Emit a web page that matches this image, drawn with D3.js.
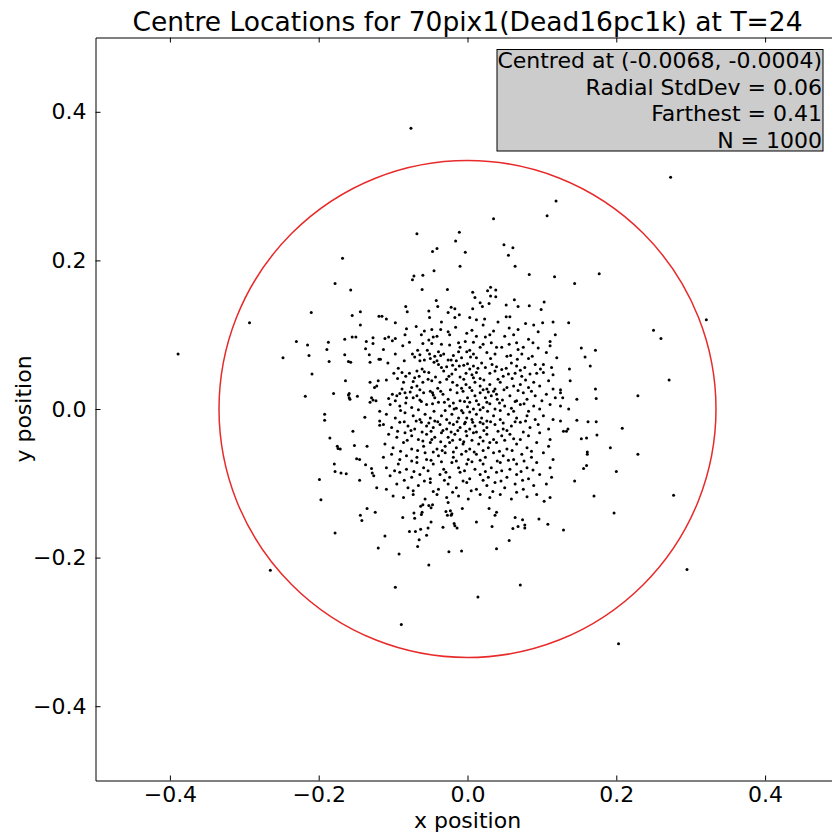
<!DOCTYPE html>
<html><head><meta charset="utf-8">
<script src="https://cdn.jsdelivr.net/npm/d3@7"></script>
<style>body{margin:0;background:#fff}svg{display:block}text{font-family:"DejaVu Sans",sans-serif;fill:#000}</style>
</head><body><svg id="c" width="832" height="832"></svg>
<script>
const titleText = "Centre Locations for 70pix1(Dead16pc1k) at T=24";
const xLabel = "x position";
const yLabel = "y position";
const xDomain = [-0.5, 0.5];
const yDomain = [-0.5, 0.5];
const xTicks = [-0.4, -0.2, 0.0, 0.2, 0.4];
const yTicks = [-0.4, -0.2, 0.0, 0.2, 0.4];
const statsLines = ["Centred at (-0.0068, -0.0004)", "Radial StdDev = 0.06", "Farthest = 0.41", "N = 1000"];
const circleRadius = 0.334;

// outer / sparse points [x, y]
const outerPts = [
[-0.389,0.074],[-0.076,0.378],
[-0.168,0.203],[-0.178,0.169],[-0.157,0.160],[-0.210,0.130],[-0.155,0.126],[-0.144,0.131],[-0.119,0.125],
[0.035,0.256],[0.119,0.280],[0.107,0.260],[-0.068,0.236],[-0.011,0.238],[-0.016,0.226],[-0.047,0.212],[-0.041,0.216],[-0.003,0.211],[0.049,0.221],[0.061,0.217],[0.055,0.207],[-0.010,0.192],[0.064,0.192],[-0.045,0.186],[-0.072,0.179],[-0.074,0.174],[-0.060,0.180],[0.083,0.181],[0.117,0.178],[-0.061,0.161],[-0.027,0.161],[0.031,0.164],[0.027,0.159],[0.038,0.160],[0.007,0.157],[0.010,0.150],[0.031,0.152],[0.038,0.151],[-0.042,0.146],[0.063,0.147],[0.103,0.144],[0.017,0.143],[0.029,0.142],[0.020,0.138],[0.052,0.140],[0.068,0.138],[0.083,0.139],[0.099,0.134],[-0.083,0.138],[-0.081,0.131],[-0.052,0.132],[-0.040,0.138],[-0.022,0.137],[-0.017,0.135],[-0.026,0.130],[-0.011,0.127],[-0.017,0.123],[0.007,0.135],[-0.051,0.123],[0.003,0.123],[0.012,0.120],[0.023,0.121],[0.052,0.124],[0.057,0.124],[-0.115,0.125],[-0.109,0.121],
[0.273,0.312],[0.177,0.182],[0.144,0.169],[0.321,0.120],
[-0.293,0.116],[-0.144,0.113],[-0.230,0.091],[-0.215,0.086],[-0.187,0.090],[-0.165,0.094],[-0.155,0.097],[-0.150,0.097],[-0.136,0.091],[-0.127,0.096],[-0.127,0.088],[-0.189,0.080],[-0.137,0.081],[-0.248,0.069],[-0.213,0.072],[-0.165,0.073],[-0.132,0.073],[-0.186,0.064],[-0.160,0.064],[-0.157,0.063],[-0.131,0.063],[-0.119,0.067],[-0.209,0.047],[-0.164,0.038],[-0.131,0.036],[-0.120,0.038],[-0.125,0.029],[-0.122,0.031],[-0.218,0.017],[-0.180,0.021],[-0.160,0.019],[-0.159,0.021],[-0.159,0.015],[-0.158,0.013],[-0.148,0.017],[-0.129,0.015],[-0.127,0.012],[-0.123,0.011],[-0.131,0.009],[-0.192,-0.007],[-0.192,-0.015],[-0.138,-0.011],[-0.118,-0.016],[-0.118,-0.022],[-0.154,-0.030],[-0.185,-0.039],[-0.152,-0.049],[-0.135,-0.050],[-0.175,-0.050],[-0.174,-0.053],[-0.171,-0.054],[-0.149,-0.067],[-0.145,-0.068],[-0.179,-0.074],[-0.137,-0.075],[-0.129,-0.080],[-0.128,-0.086],[-0.126,-0.090],[-0.178,-0.084],[-0.170,-0.086],[-0.163,-0.087],[-0.199,-0.095],[-0.145,-0.096],[-0.122,-0.106],[-0.197,-0.122],
[0.136,0.116],[0.250,0.106],[0.260,0.095],[0.153,0.082],[0.172,0.079],[0.158,0.070],[0.165,0.058],[0.137,0.054],[0.138,0.038],[0.271,0.039],[0.125,0.026],[0.125,0.022],[0.128,0.015],[0.172,0.027],[0.173,0.014],[0.147,0.013],[0.229,0.018],[0.125,0.004],[0.136,0.000],[0.125,-0.016],[0.147,-0.015],[0.162,-0.017],[0.173,-0.017],[0.208,-0.026],[0.129,-0.030],[0.133,-0.030],[0.135,-0.027],[0.174,-0.035],[0.153,-0.040],[0.160,-0.039],[0.192,-0.052],[0.161,-0.058],[0.161,-0.061],[0.229,-0.061],[0.160,-0.076],[0.156,-0.080],[0.200,-0.084],[0.144,-0.097],[0.170,-0.117],[0.277,-0.116],
[-0.135,-0.134],[-0.124,-0.139],[-0.144,-0.143],[-0.142,-0.150],[-0.178,-0.167],[-0.120,-0.187],[-0.265,-0.217],
[-0.060,-0.129],[-0.063,-0.131],[-0.052,-0.130],[-0.049,-0.133],[-0.047,-0.129],[-0.026,-0.126],[-0.072,-0.140],[-0.061,-0.139],[-0.062,-0.142],[-0.029,-0.138],[-0.023,-0.137],[-0.027,-0.143],[-0.021,-0.141],[-0.022,-0.143],[-0.007,-0.134],[0.029,-0.134],[0.039,-0.139],[0.037,-0.143],[0.103,-0.124],[-0.087,-0.146],[-0.071,-0.147],[-0.049,-0.152],[-0.018,-0.154],[-0.017,-0.157],[-0.014,-0.160],[0.012,-0.152],[-0.033,-0.159],[-0.053,-0.160],[-0.078,-0.165],[-0.070,-0.165],[-0.063,-0.162],[-0.055,-0.170],[-0.065,-0.176],[-0.111,-0.171],[0.033,-0.158],[0.064,-0.146],[0.074,-0.149],[0.068,-0.158],[0.061,-0.161],[0.077,-0.156],[0.077,-0.160],[0.096,-0.148],[0.108,-0.155],[-0.067,-0.185],[-0.092,-0.195],[-0.025,-0.192],[-0.008,-0.191],[0.039,-0.188],[0.056,-0.177],[-0.052,-0.210],[-0.097,-0.240],[0.014,-0.253],[0.071,-0.237],[-0.089,-0.290],
[0.197,-0.140],[0.129,-0.163],[0.295,-0.216],[0.203,-0.316]
];

// dense core points [x, y]
const corePts = [
[-0.097,0.116],[-0.069,0.111],[-0.048,0.107],[-0.036,0.107],[-0.035,0.117],[-0.016,0.110],[0.021,0.113],[0.041,0.117],[0.056,0.109],[0.078,0.115],[0.089,0.113],[0.101,0.116],[0.115,0.117],
[-0.111,0.095],[-0.106,0.097],[-0.101,0.092],[-0.097,0.095],[-0.084,0.100],[-0.062,0.100],[-0.052,0.093],[-0.046,0.097],[-0.041,0.098],[-0.024,0.100],[-0.001,0.102],[0.012,0.098],[0.024,0.097],[0.030,0.100],[0.050,0.098],[0.062,0.100],[0.082,0.094],[0.111,0.091],[0.118,0.100],
[-0.113,0.080],[-0.087,0.085],[-0.060,0.088],[-0.035,0.087],[-0.012,0.089],[-0.010,0.083],[-0.003,0.091],[0.003,0.079],[0.017,0.083],[0.021,0.087],[0.039,0.083],[0.046,0.083],[0.066,0.089],[0.068,0.080],[0.075,0.083],[0.095,0.082],[0.111,0.085],
[-0.097,0.074],[-0.074,0.074],[-0.067,0.079],[-0.064,0.073],[-0.054,0.079],[-0.051,0.074],[-0.039,0.077],[-0.036,0.072],[-0.032,0.074],[-0.012,0.077],[-0.008,0.069],[-0.001,0.077],[0.008,0.074],[0.012,0.069],[0.026,0.076],[0.037,0.074],[0.053,0.071],[0.067,0.067],[0.073,0.074],[0.082,0.068],[0.106,0.076],[0.120,0.069],
[-0.117,0.067],[-0.107,0.062],[-0.085,0.065],[-0.064,0.065],[-0.058,0.066],[-0.050,0.068],[-0.045,0.063],[-0.041,0.065],[-0.039,0.060],[-0.028,0.057],[-0.026,0.066],[-0.022,0.066],[-0.020,0.059],[-0.015,0.065],[-0.011,0.058],[-0.005,0.059],[0.000,0.061],[0.008,0.058],[0.019,0.062],[0.024,0.056],[0.033,0.060],[0.046,0.053],[0.059,0.062],[0.066,0.058],[0.077,0.056],[0.091,0.060],[0.102,0.060],[0.113,0.056],
[-0.099,0.048],[-0.088,0.049],[-0.083,0.044],[-0.078,0.048],[-0.068,0.051],[-0.065,0.044],[-0.058,0.050],[-0.052,0.049],[-0.032,0.051],[-0.021,0.047],[-0.010,0.043],[-0.002,0.048],[0.006,0.046],[0.012,0.049],[0.017,0.041],[0.030,0.048],[0.037,0.051],[0.048,0.044],[0.055,0.047],[0.064,0.048],[0.073,0.044],[0.084,0.047],[0.093,0.048],[0.102,0.049],[0.115,0.046],[-0.109,0.039],
[-0.086,0.036],[-0.073,0.037],[-0.075,0.029],[-0.068,0.031],[-0.060,0.036],[-0.053,0.040],[-0.048,0.038],[-0.037,0.036],[-0.028,0.040],[-0.020,0.036],[-0.014,0.032],[-0.002,0.033],[0.003,0.029],[0.010,0.036],[0.017,0.031],[0.026,0.027],[0.030,0.033],[0.037,0.027],[0.044,0.036],[0.053,0.029],[0.062,0.031],[0.071,0.033],[0.082,0.029],[0.089,0.036],[0.097,0.031],[0.109,0.038],[0.115,0.027],
[-0.101,0.020],[-0.095,0.018],[-0.091,0.021],[-0.084,0.022],[-0.077,0.023],[-0.073,0.015],[-0.059,0.022],[-0.050,0.024],[-0.047,0.022],[-0.046,0.019],[-0.044,0.015],[-0.036,0.024],[-0.033,0.020],[-0.026,0.013],[-0.106,0.014],[-0.097,0.011],[-0.082,0.015],[-0.068,0.018],[-0.064,0.012],[-0.014,0.022],[-0.006,0.024],[0.000,0.015],[-0.010,0.011],[0.010,0.018],[0.017,0.022],[0.024,0.015],[0.028,0.023],[0.032,0.018],[0.039,0.020],[0.040,0.013],[0.047,0.012],[0.057,0.018],[0.066,0.011],[0.075,0.022],[0.080,0.013],[0.091,0.018],[0.100,0.011],[0.106,0.020],[0.118,0.015],
[-0.104,0.006],[-0.091,0.004],[-0.075,0.002],[-0.055,0.006],[-0.039,0.009],[-0.024,0.004],[-0.015,0.001],[0.000,0.003],[0.003,0.009],[0.008,0.000],[0.015,0.006],[0.021,0.002],[0.030,0.007],[0.037,0.000],[0.050,0.004],[0.059,0.001],[0.071,0.006],[0.082,-0.003],[0.089,0.004],[0.097,0.000],[0.111,0.006],[-0.118,-0.003],
[-0.109,-0.007],[-0.097,-0.012],[-0.084,-0.005],[-0.073,-0.009],[-0.064,-0.014],[-0.057,-0.007],[-0.050,-0.012],[-0.044,-0.016],[-0.035,-0.009],[-0.028,-0.014],[-0.021,-0.007],[-0.012,-0.012],[-0.006,-0.005],[-0.001,-0.012],[0.006,-0.014],[0.012,-0.007],[0.019,-0.012],[0.026,-0.016],[0.035,-0.009],[0.044,-0.014],[0.055,-0.007],[0.066,-0.012],[0.080,-0.009],[0.091,-0.014],[0.102,-0.009],[0.115,-0.014],
[-0.113,-0.021],[-0.102,-0.025],[-0.091,-0.018],[-0.080,-0.023],[-0.071,-0.027],[-0.062,-0.018],[-0.055,-0.023],[-0.046,-0.025],[-0.037,-0.021],[-0.028,-0.027],[-0.019,-0.021],[-0.010,-0.025],[-0.003,-0.018],[0.003,-0.027],[0.010,-0.023],[0.017,-0.018],[0.026,-0.025],[0.037,-0.021],[0.048,-0.027],[0.059,-0.023],[0.071,-0.018],[0.084,-0.025],[0.095,-0.021],[0.109,-0.027],
[-0.106,-0.034],[-0.095,-0.038],[-0.084,-0.032],[-0.075,-0.036],[-0.066,-0.041],[-0.055,-0.034],[-0.044,-0.038],[-0.035,-0.032],[-0.026,-0.038],[-0.017,-0.034],[-0.010,-0.041],[-0.001,-0.036],[0.008,-0.032],[0.017,-0.038],[0.026,-0.034],[0.035,-0.041],[0.046,-0.036],[0.057,-0.034],[0.071,-0.041],[0.082,-0.036],[0.097,-0.032],[0.111,-0.041],
[-0.111,-0.047],[-0.100,-0.052],[-0.086,-0.045],[-0.075,-0.054],[-0.059,-0.050],[-0.050,-0.045],[-0.041,-0.054],[-0.030,-0.050],[-0.024,-0.045],[-0.015,-0.052],[-0.006,-0.047],[0.003,-0.054],[0.015,-0.047],[0.028,-0.052],[0.039,-0.045],[0.053,-0.054],[0.066,-0.047],[0.080,-0.052],[0.093,-0.045],[0.109,-0.050],
[-0.113,-0.065],[-0.102,-0.061],[-0.091,-0.068],[-0.082,-0.063],[-0.068,-0.065],[-0.057,-0.059],[-0.055,-0.068],[-0.039,-0.063],[-0.030,-0.059],[-0.019,-0.065],[-0.008,-0.061],[0.001,-0.068],[0.012,-0.061],[0.024,-0.065],[0.035,-0.059],[0.048,-0.063],[0.062,-0.068],[0.073,-0.061],[0.086,-0.065],[0.102,-0.059],[0.115,-0.068],
[-0.109,-0.079],[-0.093,-0.074],[-0.082,-0.081],[-0.068,-0.072],[-0.059,-0.079],[-0.046,-0.074],[-0.032,-0.081],[-0.021,-0.072],[-0.012,-0.079],[-0.001,-0.074],[0.010,-0.081],[0.021,-0.074],[0.032,-0.079],[0.044,-0.072],[0.057,-0.081],[0.066,-0.074],[0.080,-0.079],[0.093,-0.072],[0.111,-0.079],
[-0.104,-0.090],[-0.091,-0.085],[-0.075,-0.092],[-0.064,-0.088],[-0.050,-0.094],[-0.037,-0.088],[-0.024,-0.092],[-0.010,-0.085],[0.003,-0.094],[0.017,-0.088],[0.028,-0.092],[0.039,-0.085],[0.053,-0.092],[0.066,-0.088],[0.082,-0.094],[0.097,-0.088],[0.113,-0.092],
[-0.109,-0.108],[-0.095,-0.101],[-0.080,-0.106],[-0.066,-0.103],[-0.050,-0.099],[-0.039,-0.108],[-0.026,-0.101],[-0.015,-0.106],[-0.001,-0.099],[0.012,-0.108],[0.026,-0.103],[0.037,-0.099],[0.050,-0.106],[0.064,-0.101],[0.075,-0.108],[0.089,-0.103],[0.106,-0.101],
[-0.100,-0.117],[-0.086,-0.119],[-0.073,-0.115],[-0.057,-0.121],[-0.041,-0.115],[-0.028,-0.119],[-0.012,-0.117],[0.001,-0.121],[0.017,-0.115],[0.030,-0.119],[0.044,-0.115],[0.059,-0.121],[0.080,-0.118],[0.093,-0.115],[0.111,-0.119]
];

// additional points in the densest part of the core [x, y]
const densePts = [
[-0.071,0.070],[-0.044,0.071],[-0.019,0.072],[0.004,0.070],[0.031,0.068],[0.058,0.072],[0.087,0.071],
[-0.093,0.055],[-0.061,0.054],[-0.035,0.056],[-0.016,0.053],[0.003,0.054],[0.014,0.055],[0.039,0.057],[0.052,0.055],[0.071,0.052],[0.098,0.054],
[-0.094,0.041],[-0.071,0.042],[-0.043,0.043],[-0.025,0.044],[-0.005,0.040],[0.008,0.042],[0.022,0.039],[0.041,0.040],[0.060,0.041],[0.078,0.039],
[-0.088,0.027],[-0.064,0.026],[-0.040,0.028],[-0.023,0.026],[-0.008,0.028],[0.006,0.025],[0.021,0.026],[0.035,0.024],[0.049,0.026],[0.068,0.025],[0.086,0.024],
[-0.083,0.008],[-0.062,0.010],[-0.047,0.007],[-0.031,0.009],[-0.019,0.008],[-0.004,0.010],[0.012,0.011],[0.026,0.009],[0.043,0.008],[0.064,0.010],[0.076,0.007],
[-0.090,-0.002],[-0.066,-0.001],[-0.045,-0.003],[-0.030,-0.002],[-0.018,0.000],[-0.008,-0.002],[0.003,-0.004],[0.017,-0.001],[0.027,-0.003],[0.044,-0.002],[0.062,-0.003],
[-0.085,-0.017],[-0.069,-0.016],[-0.052,-0.019],[-0.040,-0.017],[-0.024,-0.019],[-0.014,-0.017],[-0.004,-0.020],[0.007,-0.018],[0.021,-0.020],[0.031,-0.017],[0.048,-0.019],[0.064,-0.017],[0.078,-0.016],
[-0.094,-0.030],[-0.076,-0.029],[-0.061,-0.031],[-0.049,-0.030],[-0.033,-0.029],[-0.022,-0.031],[-0.013,-0.029],[-0.002,-0.030],[0.012,-0.031],[0.022,-0.029],[0.041,-0.030],[0.053,-0.029],[0.075,-0.031],
[-0.081,-0.042],[-0.060,-0.043],[-0.048,-0.041],[-0.036,-0.044],[-0.020,-0.042],[-0.005,-0.044],[0.006,-0.042],[0.021,-0.043],[0.030,-0.045],[0.050,-0.042],[0.062,-0.040],
[-0.090,-0.057],[-0.067,-0.056],[-0.046,-0.058],[-0.034,-0.056],[-0.019,-0.058],[-0.002,-0.057],[0.009,-0.058],[0.021,-0.056],[0.043,-0.057],[0.060,-0.056],[0.086,-0.057],
[-0.075,-0.070],[-0.049,-0.069],[-0.035,-0.071],[-0.015,-0.070],[0.006,-0.071],[0.017,-0.069],[0.040,-0.070],[0.055,-0.069],[0.076,-0.070],
[-0.098,-0.083],[-0.072,-0.084],[-0.053,-0.083],[-0.029,-0.085],[-0.004,-0.083],[0.024,-0.084],[0.046,-0.083],[0.072,-0.084],[0.088,-0.082],
[-0.085,-0.096],[-0.058,-0.097],[-0.031,-0.096],[-0.006,-0.097],[0.021,-0.096],[0.045,-0.097],[0.074,-0.096],
[-0.073,-0.110],[-0.046,-0.111],[-0.020,-0.112],[0.005,-0.110],[0.034,-0.111],[0.066,-0.112],
[-0.078,0.090],[-0.048,0.088],[-0.024,0.086],[0.008,0.090],[0.032,0.089],[0.056,0.087],[0.088,0.089],
[-0.082,0.108],[-0.058,0.105],[-0.026,0.104],[0.006,0.106],[0.035,0.105],[0.068,0.107],[0.095,0.104]
];

const svg = d3.select("#c");
const L = 95.5, R = 839.5, T = 37.5, B = 780.5;
const x = d3.scaleLinear().domain(xDomain).range([L, R]);
const y = d3.scaleLinear().domain(yDomain).range([B, T]);
const fmt = d3.format(".1f");

svg.append("defs").append("clipPath").attr("id", "clip")
  .append("rect").attr("x", L).attr("y", T).attr("width", R - L).attr("height", B - T);

const plot = svg.append("g").attr("clip-path", "url(#clip)");
plot.append("circle")
  .attr("cx", x(0)).attr("cy", y(0))
  .attr("r", x(circleRadius) - x(0))
  .attr("fill", "none").attr("stroke", "#e82a2a").attr("stroke-width", 1.5);

const allPts = outerPts.concat(corePts, densePts);
plot.selectAll("circle.pt").data(allPts).join("circle")
  .attr("class", "pt")
  .attr("cx", d => x(d[0])).attr("cy", d => y(d[1]))
  .attr("r", 1.5).attr("fill", "#000");

function styleAxis(g) {
  g.selectAll("path.domain").attr("stroke", "#000").attr("stroke-width", 1);
  g.selectAll(".tick line").attr("stroke", "#000").attr("stroke-width", 1);
  g.selectAll("text").attr("font-family", "DejaVu Sans").attr("font-size", 22).attr("fill", "#000");
}
const gx = svg.append("g").attr("transform", `translate(0,${B})`)
  .call(d3.axisBottom(x).tickValues(xTicks).tickFormat(fmt).tickSizeInner(-5).tickSizeOuter(0).tickPadding(6));
styleAxis(gx);
const gy = svg.append("g").attr("transform", `translate(${L},0)`)
  .call(d3.axisLeft(y).tickValues(yTicks).tickFormat(fmt).tickSizeInner(-5).tickSizeOuter(0).tickPadding(9));
styleAxis(gy);
const gt = svg.append("g").attr("transform", `translate(0,${T})`)
  .call(d3.axisTop(x).tickValues(xTicks).tickFormat("").tickSizeInner(-5).tickSizeOuter(0));
styleAxis(gt);
const gr = svg.append("g").attr("transform", `translate(${R},0)`)
  .call(d3.axisRight(y).tickValues(yTicks).tickFormat("").tickSizeInner(-5).tickSizeOuter(0));
styleAxis(gr);

svg.append("text").attr("x", (L + R) / 2).attr("y", 31).attr("text-anchor", "middle")
  .attr("font-size", 26.5).text(titleText);
svg.append("text").attr("x", (L + R) / 2).attr("y", 828).attr("text-anchor", "middle")
  .attr("font-size", 22).text(xLabel);
svg.append("text").attr("transform", `translate(31,${(T + B) / 2}) rotate(-90)`).attr("text-anchor", "middle")
  .attr("font-size", 22).text(yLabel);

const box = svg.append("g");
box.append("rect").attr("x", 497).attr("y", 49.5).attr("width", 326).attr("height", 101.5)
  .attr("fill", "#cccccc").attr("stroke", "#000").attr("stroke-width", 1);
box.selectAll("text.s").data(statsLines).join("text").attr("class", "s")
  .attr("x", 822).attr("y", (d, i) => 68 + i * 26.7)
  .attr("text-anchor", "end").attr("font-size", 22).text(d => d);
</script></body></html>
